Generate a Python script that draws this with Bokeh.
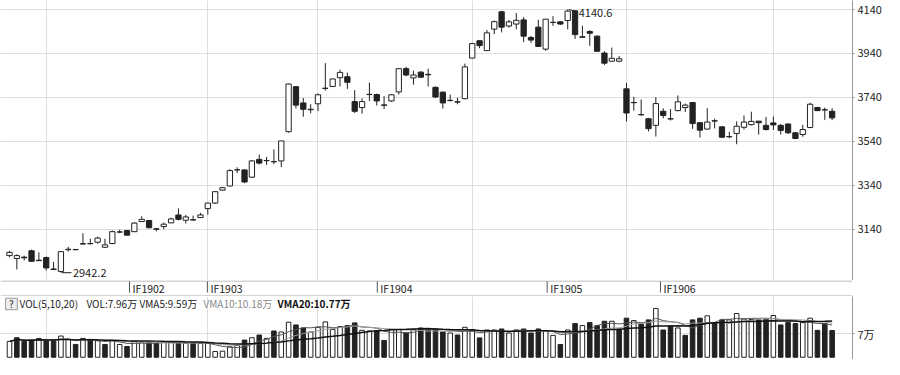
import numpy as np
import pandas as pd
from bokeh.plotting import figure
from bokeh.layouts import column
from bokeh.models import Range1d, FixedTicker, Span
from bokeh.core.properties import value
from bokeh.embed import file_html
from bokeh.resources import INLINE

# ---------------- data ----------------
opens = [3020, 3007, 3013, 3042, 2999, 3011, 2959, 2948, 3047, 3048,
         3074, 3075, 3081, 3058, 3075, 3127, 3134, 3129, 3175, 3180,
         3142, 3152, 3169, 3205, 3181, 3183, 3193, 3234, 3259, 3318,
         3337, 3410, 3410, 3377, 3458, 3452, 3448, 3451, 3584, 3789,
         3715, 3684, 3711, 3782, 3790, 3830, 3834, 3721, 3694, 3754,
         3753, 3706, 3724, 3765, 3871, 3829, 3855, 3845, 3786, 3764,
         3727, 3720, 3734, 3919, 3998, 3953, 4051, 4130, 4065, 4074,
         4093, 4013, 4060, 3960, 4081, 4084, 4090, 4134, 4016, 4040,
         4019, 3942, 3905, 3905, 3779, 3717, 3662, 3643, 3613, 3677,
         3643, 3680, 3694, 3717, 3625, 3596, 3632, 3606, 3562, 3576,
         3604, 3616, 3632, 3613, 3624, 3613, 3619, 3579, 3571, 3603,
         3694, 3684, 3677]
highs = [3042, 3026, 3020, 3047, 3035, 3016, 2991, 3040, 3060, 3050,
         3122, 3097, 3106, 3097, 3134, 3137, 3137, 3172, 3199, 3182,
         3146, 3170, 3193, 3235, 3205, 3202, 3215, 3261, 3311, 3333,
         3413, 3422, 3413, 3454, 3480, 3469, 3503, 3542, 3803, 3790,
         3737, 3709, 3758, 3896, 3826, 3866, 3853, 3773, 3736, 3808,
         3757, 3746, 3755, 3874, 3880, 3862, 3860, 3871, 3790, 3767,
         3753, 3739, 3894, 3988, 4000, 4047, 4090, 4134, 4093, 4124,
         4106, 4020, 4093, 4097, 4110, 4088, 4140.6, 4137, 4066, 4046,
         4022, 3950, 3967, 3929, 3806, 3743, 3731, 3647, 3741, 3691,
         3687, 3749, 3712, 3719, 3627, 3691, 3643, 3610, 3584, 3631,
         3658, 3675, 3632, 3651, 3653, 3619, 3622, 3582, 3615, 3716,
         3697, 3694, 3691]
lows = [3013, 2957, 2998, 2992, 2996, 2952, 2954, 2942.2, 3038, 3044,
        3070, 3071, 3074, 3056, 3072, 3122, 3112, 3127, 3173, 3144,
        3131, 3140, 3168, 3180, 3166, 3180, 3191, 3206, 3255, 3316,
        3335, 3396, 3350, 3373, 3435, 3433, 3436, 3423, 3580, 3690,
        3652, 3668, 3678, 3771, 3787, 3790, 3779, 3669, 3666, 3724,
        3703, 3687, 3720, 3753, 3836, 3798, 3830, 3790, 3738, 3689,
        3721, 3709, 3732, 3918, 3964, 3952, 4028, 4036, 4058, 4050,
        3992, 3988, 3970, 3952, 4066, 4070, 4050, 4006, 4011, 3975,
        3948, 3888, 3902, 3900, 3631, 3680, 3657, 3585, 3562, 3645,
        3635, 3677, 3674, 3597, 3557, 3594, 3599, 3555, 3554, 3527,
        3594, 3612, 3571, 3589, 3592, 3571, 3574, 3550, 3561, 3600,
        3678, 3638, 3637]
closes = [3035, 3020, 3010, 2994, 2997, 2964, 2957, 3038, 3049, 3047,
          3073, 3074, 3100, 3069, 3129, 3128, 3113, 3168, 3185, 3147,
          3140, 3163, 3187, 3185, 3196, 3182, 3205, 3259, 3311, 3329,
          3407, 3411, 3355, 3451, 3441, 3453, 3447, 3542, 3801, 3705,
          3686, 3686, 3752, 3781, 3824, 3854, 3809, 3677, 3721, 3753,
          3724, 3704, 3752, 3871, 3842, 3842, 3832, 3843, 3742, 3715,
          3726, 3719, 3879, 3985, 3976, 4034, 4085, 4060, 4084, 4091,
          4019, 4001, 3972, 4096, 4082, 4074, 4133, 4026, 4014, 4032,
          3950, 3896, 3918, 3916, 3669, 3716, 3661, 3598, 3712, 3658,
          3642, 3720, 3705, 3621, 3591, 3628, 3634, 3559, 3561, 3609,
          3628, 3631, 3625, 3594, 3615, 3590, 3579, 3553, 3594, 3709,
          3680, 3683, 3647]
# volume in 万 (10k lots)
volumes = [4.7, 5.8, 4.7, 5.1, 5.6, 4.9, 5.1, 6.3, 5.3, 3.8,
           5.6, 5.3, 4.9, 3.8, 4.9, 3.8, 3.2, 4.7, 4.4, 4.4,
           4.2, 4.4, 4.4, 4.2, 4.2, 4.2, 4.2, 4.2, 1.7, 1.8,
           3.1, 3.5, 5.1, 5.8, 6.6, 5.6, 7.8, 7.5, 10.4, 9.6,
           8.7, 7.5, 8.9, 10.5, 8.25, 9.1, 9.4, 10.2, 8.0, 7.8,
           7.8, 5.0, 8.25, 8.25, 7.2, 8.25, 8.7, 8.4, 8.4, 7.5,
           7.2, 6.6, 8.9, 8.25, 5.75, 8.1, 8.1, 8.4, 7.2, 8.1,
           8.4, 7.2, 8.4, 7.8, 6.5, 3.8, 8.1, 10.0, 9.4, 10.3,
           9.4, 10.7, 10.7, 8.4, 11.6, 10.9, 9.85, 11.1, 14.5, 8.1,
           9.3, 8.7, 6.5, 11.1, 11.6, 12.3, 10.2, 11.1, 11.1, 13.0,
           11.4, 11.2, 11.1, 11.3, 12.4, 9.6, 10.3, 10.0, 10.3, 11.6,
           8.0, 10.0, 7.96]
# 1 = hollow (up) volume bar, 0 = filled (down) volume bar
vol_up = [1, 0, 0, 0, 1, 0, 0, 1, 1, 0, 1, 0, 1, 0, 1, 1, 0, 1, 1, 0,
          0, 1, 1, 0, 1, 0, 1, 1, 1, 1, 1, 1, 0, 1, 0, 1, 0, 1, 1, 0,
          0, 1, 1, 1, 1, 1, 0, 0, 1, 1, 0, 0, 1, 1, 0, 1, 0, 0, 0, 0,
          1, 0, 1, 1, 0, 1, 1, 0, 1, 1, 0, 0, 0, 1, 1, 0, 1, 0, 1, 0,
          0, 0, 1, 0, 0, 1, 0, 0, 1, 0, 0, 1, 0, 0, 0, 1, 0, 0, 1, 1,
          1, 1, 0, 0, 1, 0, 0, 0, 1, 1, 0, 0, 0]
month_starts = [5, 27, 42, 63, 84, 104]
contract_pos = [17, 28, 52, 76, 92]
contract_labels = ["IF1902", "IF1903", "IF1904", "IF1905", "IF1906"]
price_ticks = [3140, 3340, 3540, 3740, 3940, 4140]
vol_ticks = [7]
vol_tick_labels = ["7万"]
ma_periods = [5, 10, 20]
header_vals = [7.96, 9.59, 10.18, 10.77]

# ---------------- layout constants ----------------
FONT = "Noto Sans CJK SC"
W = 884
RB = 32
PX = 7.345                 # pixels per candle
X0 = -1.225
FRAME_W = W - RB
INK = "#222222"
GRID = "#dddddd"
H_MAIN, H_BAND, H_VOL = 280, 16, 63

n = len(closes)
idx = np.arange(n)
o = np.array(opens, float); c = np.array(closes, float)
h = np.array(highs, float); l = np.array(lows, float)

xr = Range1d(X0, X0 + FRAME_W / PX)

# ---------------- main candlestick panel ----------------
pm = figure(width=W, height=H_MAIN, x_range=xr, y_range=Range1d(2906.7, 4181.2),
            y_axis_location="right", x_axis_location=None,
            output_backend="svg", toolbar_location=None,
            min_border_left=0, min_border_right=RB, min_border_top=0, min_border_bottom=0,
            outline_line_color=None, background_fill_color="white", border_fill_color="white")
pm.yaxis.ticker = FixedTicker(ticks=price_ticks)
pm.yaxis.axis_line_color = "#999999"
pm.yaxis.major_tick_line_color = "#999999"
pm.yaxis.major_tick_out = 2
pm.yaxis.major_tick_in = 0
pm.yaxis.minor_tick_line_color = None
pm.yaxis.major_label_standoff = 3
pm.yaxis.major_label_text_font = FONT
pm.yaxis.major_label_text_font_size = "11px"
pm.yaxis.major_label_text_color = INK
pm.xgrid.ticker = FixedTicker(ticks=month_starts)
pm.xgrid.grid_line_color = GRID
pm.ygrid.grid_line_color = GRID

body_lo = np.minimum(o, c)
body_hi = np.maximum(np.maximum(o, c), body_lo + 1.0)
up = c >= o
pm.segment(x0=idx, y0=l, x1=idx, y1=h, line_color=INK, line_width=1)
pm.vbar(x=idx, bottom=body_lo, top=body_hi, width=0.72,
        fill_color=["white" if u else INK for u in up], line_color=INK, line_width=1)

imax = int(np.argmax(h)); imin = int(np.argmin(l))
pm.segment(x0=[imax + 0.15], y0=[h[imax]], x1=[imax + 1.35], y1=[h[imax] - 12],
           line_color=INK, line_width=1)
pm.text(x=[imax], y=[h[imax]], text=[f"{h[imax]:.1f}"], x_offset=11, y_offset=4,
        text_align="left", text_baseline="middle", text_font=value(FONT),
        text_font_size="11px", text_color=INK)
pm.segment(x0=[imin + 0.1], y0=[l[imin]], x1=[imin + 1.45], y1=[l[imin]],
           line_color=INK, line_width=1)
pm.text(x=[imin], y=[l[imin]], text=[f"{l[imin]:.1f}"], x_offset=12, y_offset=0,
        text_align="left", text_baseline="middle", text_font=value(FONT),
        text_font_size="11px", text_color=INK)

# ---------------- contract band ----------------
pb = figure(width=W, height=H_BAND, x_range=Range1d(X0, X0 + W / PX), y_range=Range1d(0, 16),
            x_axis_location=None, y_axis_location=None,
            output_backend="svg", toolbar_location=None,
            min_border_left=0, min_border_right=0, min_border_top=0, min_border_bottom=0,
            outline_line_color=None)
pb.xgrid.visible = False
pb.ygrid.visible = False
pb.add_layout(Span(location=15.5, dimension="width", line_color="#aaaaaa", line_width=1))
pb.add_layout(Span(location=0.5, dimension="width", line_color="#aaaaaa", line_width=1))
pb.segment(x0=contract_pos, y0=[15.5] * len(contract_pos), x1=contract_pos,
           y1=[4] * len(contract_pos), line_color="#555555", line_width=1)
pb.text(x=contract_pos, y=[8] * len(contract_pos), text=contract_labels, x_offset=3,
        text_align="left", text_baseline="middle", text_font=value(FONT),
        text_font_size="10.5px", text_color=INK)

# ---------------- volume panel ----------------
pv = figure(width=W, height=H_VOL, x_range=xr, y_range=Range1d(-0.67, 18.05),
            y_axis_location="right", x_axis_location=None,
            output_backend="svg", toolbar_location=None,
            min_border_left=0, min_border_right=RB, min_border_top=0, min_border_bottom=0,
            outline_line_color=None)
pv.yaxis.ticker = FixedTicker(ticks=vol_ticks)
pv.yaxis.major_label_overrides = {t: s for t, s in zip(vol_ticks, vol_tick_labels)}
pv.yaxis.axis_line_color = "#999999"
pv.yaxis.major_tick_line_color = "#999999"
pv.yaxis.major_tick_out = 2
pv.yaxis.major_tick_in = 0
pv.yaxis.minor_tick_line_color = None
pv.yaxis.major_label_standoff = 3
pv.yaxis.major_label_text_font = FONT
pv.yaxis.major_label_text_font_size = "11px"
pv.yaxis.major_label_text_color = INK
pv.xgrid.ticker = FixedTicker(ticks=month_starts)
pv.xgrid.grid_line_color = GRID
pv.ygrid.grid_line_color = GRID

pv.vbar(x=idx, bottom=0, top=volumes, width=0.62,
        fill_color=["white" if u else INK for u in vol_up], line_color=INK, line_width=1)

vs = pd.Series(volumes)
ma_styles = [("#555555", 1), ("#9a9a9a", 1), ("#111111", 1.5)]
for per, (col, lw) in zip(ma_periods, ma_styles):
    pv.line(idx, vs.rolling(per, min_periods=1).mean().values, line_color=col, line_width=lw)

# header
HY = 15.83
pv.rect(x=[0.27], y=[HY], width=1.6, height=3.4, fill_color="#eeeeee", line_color="#999999")
pv.text(x=[0.27], y=[HY], text=["?"], text_align="center", text_baseline="middle",
        text_font=value(FONT), text_font_size="10px", text_color=INK)
hdr = [
    (1.36, f"VOL({','.join(str(p) for p in ma_periods)})", INK, "normal"),
    (10.48, f"VOL:{header_vals[0]:.2f}万", INK, "normal"),
    (17.70, f"VMA{ma_periods[0]}:{header_vals[1]:.2f}万", INK, "normal"),
    (26.41, f"VMA{ma_periods[1]}:{header_vals[2]:.2f}万", "#8a8a8a", "normal"),
    (36.49, f"VMA{ma_periods[2]}:{header_vals[3]:.2f}万", "#111111", "bold"),
]
for hx, ht, hc, hs in hdr:
    pv.text(x=[hx], y=[HY], text=[ht], text_align="left", text_baseline="middle",
            text_font=value(FONT), text_font_size="10px", text_color=hc,
            text_font_style=hs)

layout = column(pm, pb, pv, spacing=0)
open("out.html", "w").write(file_html(layout, INLINE))
